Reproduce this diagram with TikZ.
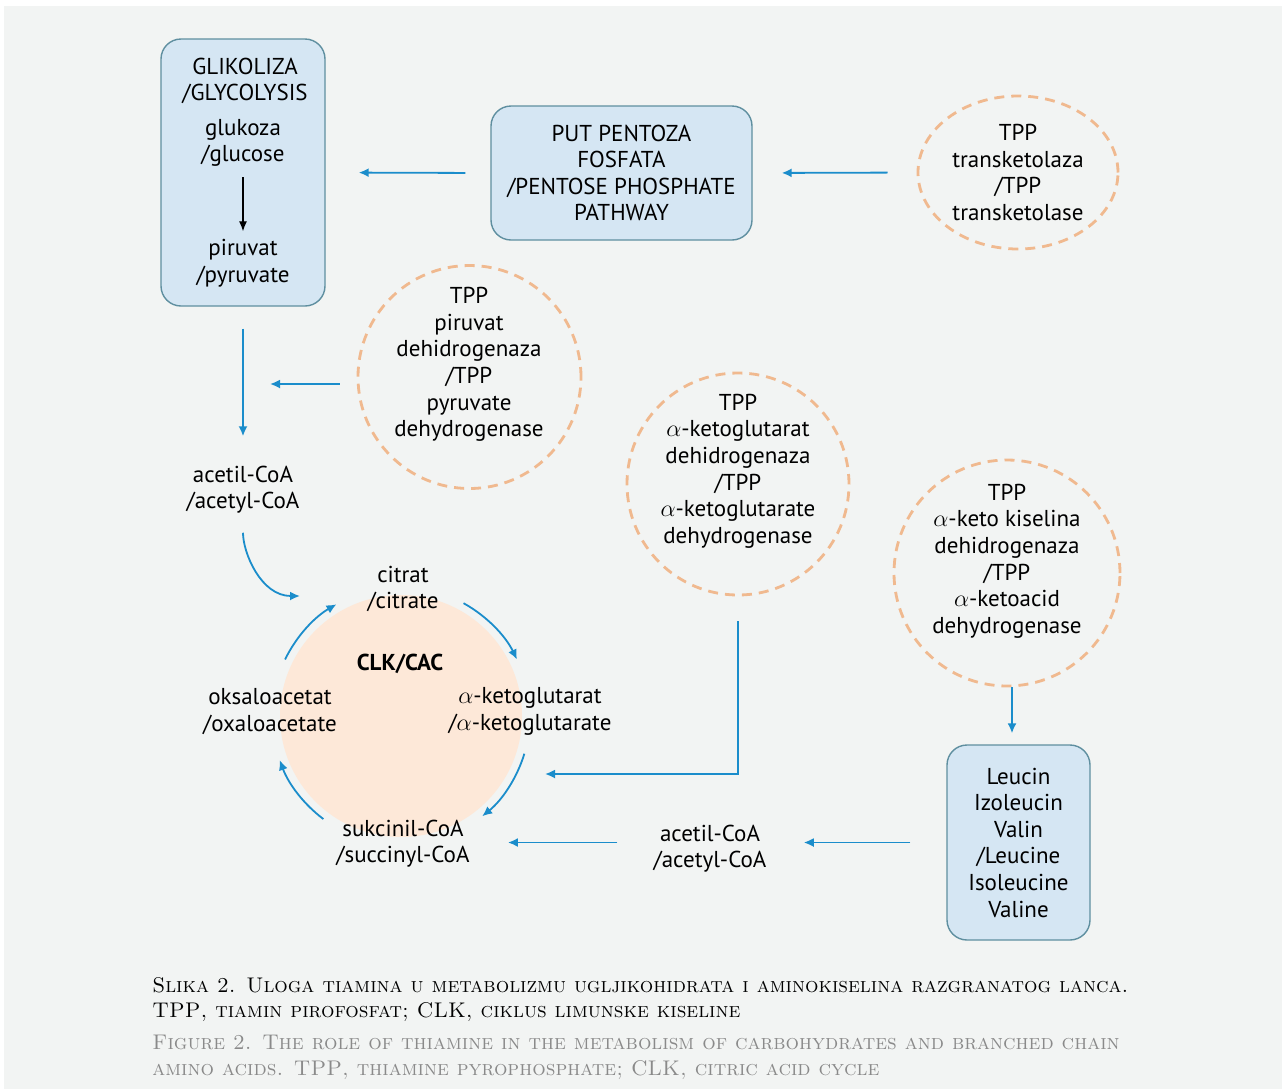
\documentclass[tikz,border=0pt]{standalone}
\usepackage{fontspec}
\setsansfont{PT Sans}
\usetikzlibrary{arrows.meta,shapes.geometric,calc}
\definecolor{bgc}{HTML}{F2F4F3}
\definecolor{boxc}{HTML}{D5E6F3}
\definecolor{boxl}{HTML}{5F8FA0}
\definecolor{enzc}{HTML}{F0B98F}
\definecolor{cycc}{HTML}{FDE8D8}
\definecolor{arrc}{HTML}{1B8DCB}
\definecolor{capgray}{HTML}{8A8A8A}
\begin{document}
\begin{tikzpicture}[x=0.5pt,y=0.5pt,
  lbl/.style={font=\sffamily\fontsize{11.5}{13.3}\selectfont, align=center, inner sep=0pt},
  blk/.style={lbl, draw=boxl, fill=boxc, line width=0.7pt, rounded corners=10pt},
  enz/.style={lbl, draw=enzc, line width=1.4pt, dash pattern=on 5pt off 3.5pt},
  arr/.style={draw=arrc, line width=0.9pt, -{Latex[length=5pt,width=4.5pt]}},
  captxt/.style={font=\fontsize{10.6}{13}\selectfont, anchor=base west, inner sep=0pt}]
\useasboundingbox (0,0) rectangle (1282,-1089);
\fill[white] (0,0) rectangle (1282,-1089);
\fill[bgc] (4,-6) rectangle (1282,-1089);

% glycolysis
\node[blk, minimum width=82pt, minimum height=133.5pt] (gly) at (243,-172.5) {};
\node[lbl] (glyt) at (245,-81) {GLIKOLIZA\\/GLYCOLYSIS};
\node[lbl] (gluc) at (243,-143) {glukoza\\/glucose};
\node[lbl] (pir) at (243,-263) {piruvat\\/pyruvate};
\draw[line width=0.6pt, -{Latex[length=5pt,width=4pt]}, shorten <=5pt, shorten >=3.75pt] (gluc.south) -- (pir.north);

% pentose phosphate
\node[blk, minimum width=130.5pt, minimum height=67pt] (ppp) at (621.5,-173) {PUT PENTOZA\\FOSFATA\\/PENTOSE PHOSPHATE\\PATHWAY};
\node[enz, ellipse, minimum width=100pt, minimum height=76.5pt] (tk) at (1018,-172.5) {TPP\\transketolaza\\/TPP\\transketolase};
\draw[arr, shorten <=14.5pt, shorten >=14.5pt] (tk.west) -- (ppp.east);
\draw[arr, shorten <=12.5pt, shorten >=16.5pt] (ppp.west) -- (gly.east);

% pyruvate dehydrogenase
\node[enz, circle, minimum size=111.5pt] (pdh) at (469.5,-377) {};
\node[lbl] (pdht) at (469,-364.5) {TPP\\piruvat\\dehidrogenaza\\/TPP\\pyruvate\\dehydrogenase};
\node[lbl] (acA) at (243,-489.5) {acetil-CoA\\/acetyl-CoA};
\coordinate (pdhin) at (243,-384);
\draw[arr, shorten <=11pt, shorten >=14.5pt] (gly.south) -- (acA.north);
\draw[arr, shorten <=8.5pt, shorten >=13.5pt] (pdh.west |- pdhin) -- (pdhin);

% citric acid cycle
\node[circle, fill=cycc, minimum size=121pt, inner sep=0pt] (cyc) at (401,-716) {};
\node[lbl, font=\sffamily\bfseries\fontsize{11.5}{13.3}\selectfont] (clk) at (400,-664) {CLK/CAC};
\node[lbl] (cit) at (403,-589) {citrat\\/citrate};
\node[lbl] (oxa) at (270,-711.5) {oksaloacetat\\/oxaloacetate};
\node[lbl] (akg) at (530,-711.5) {$\alpha$-ketoglutarat\\/$\alpha$-ketoglutarate};
\node[lbl] (suc) at (403,-843.5) {sukcinil-CoA\\/succinyl-CoA};
\foreach \a/\b in {154/120,61/26,-17/-51,-127/-160}
  \draw[arr] ([shift={(\a:129)}]cyc.center) arc[start angle=\a, end angle=\b, radius=64.5pt];
\coordinate (acin) at (300,-596);
\draw[arr, shorten <=9.5pt] (acA.south) to[out=-90, in=180] (acin);

% alpha-ketoglutarate dehydrogenase
\node[enz, circle, minimum size=111pt] (akgdh) at (738,-484) {};
\node[lbl] (akgdht) at (738,-471) {TPP\\$\alpha$-ketoglutarat\\dehidrogenaza\\/TPP\\$\alpha$-ketoglutarate\\dehydrogenase};
\coordinate (akgin) at (545,-774);
\draw[arr, shorten <=12.5pt] (akgdh.south) |- (akgin);

% branched chain amino acids
\node[enz, circle, minimum size=113pt] (akdh) at (1007,-573) {};
\node[lbl] (akdht) at (1007,-561) {TPP\\$\alpha$-keto kiselina\\dehidrogenaza\\/TPP\\$\alpha$-ketoacid\\dehydrogenase};
\node[blk, minimum width=71.5pt, minimum height=97.5pt] (leu) at (1018.5,-842.5) {Leucin\\Izoleucin\\Valin\\/Leucine\\Isoleucine\\Valine};
\node[lbl] (acB) at (710,-848.5) {acetil-CoA\\/acetyl-CoA};
\draw[arr, shorten >=5.5pt] ($(akdh.south)+(5,0)$) -- ($(akdh.south |- leu.north)+(5,0)$);
\draw[arr, shorten <=18pt, shorten >=18.5pt] (leu.west) -- (leu.west -| acB.east);
\draw[arr, shorten <=18pt, shorten >=19pt] (acB.west |- leu.west) -- (suc.east |- leu.west);

% caption
\node[captxt] (cap1) at (152,-992) {\textsc{Slika 2. Uloga tiamina u metabolizmu ugljikohidrata i aminokiselina razgranatog lanca.}};
\node[captxt] (cap2) at (152,-1017) {\textsc{TPP, tiamin pirofosfat; CLK, ciklus limunske kiseline}};
\node[captxt, text=capgray] (cap3) at (152,-1049) {\textsc{Figure 2. The role of thiamine in the metabolism of carbohydrates and branched chain}};
\node[captxt, text=capgray] (cap4) at (152,-1075) {\textsc{amino acids. TPP, thiamine pyrophosphate; CLK, citric acid cycle}};
\end{tikzpicture}
\end{document}
